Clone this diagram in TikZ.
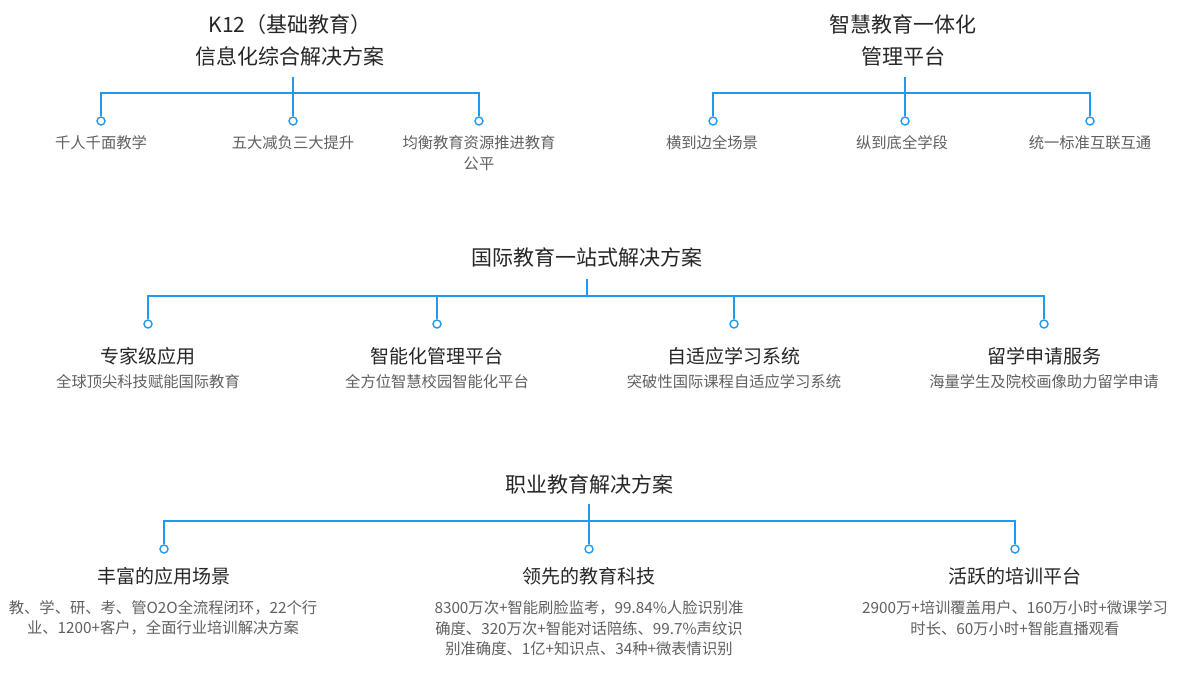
\documentclass[tikz,border=0pt]{standalone}
\usepackage{fontspec}
\setmainfont{Noto Sans CJK SC}
\definecolor{lineblue}{RGB}{30,155,240}
\definecolor{titlec}{RGB}{38,38,38}
\definecolor{descc}{RGB}{96,96,96}
\tikzset{
  titlenode/.style={font=\fontsize{21}{32}\selectfont, text=titlec, align=center, inner sep=0pt},
  subt/.style={font=\fontsize{19}{24}\selectfont, text=titlec, inner sep=0pt},
  desc/.style={font=\fontsize{15.3}{20.5}\selectfont, text=descc, align=center, inner sep=0pt},
  conn/.style={draw=lineblue, line width=1.5pt},
  dot/.style={circle, draw=lineblue, fill=white, line width=1.4pt, minimum size=8pt, inner sep=0pt}
}
\begin{document}
\begin{tikzpicture}[x=1pt,y=-1pt]
\useasboundingbox[fill=white] (0,0) rectangle (1180,682);

% ---------- K12 ----------
\node[titlenode] (k12) at (290,40) {K12（基础教育）\\信息化综合解决方案};
\coordinate (k12s) at (293,77);
\coordinate (k12b) at (293,93);
\node[dot] (a1) at (101,121) {};
\node[dot] (a2) at (293,121) {};
\node[dot] (a3) at (479,121) {};
\draw[conn] (k12s) -- (a2);
\draw[conn] (a1) -- (a1 |- k12b) -- (a3 |- k12b) -- (a3);
\node[desc] (la1) at (101,143) {千人千面教学};
\node[desc] (la2) at (293,143) {五大减负三大提升};
\node[desc] (la3) at (479,153) {均衡教育资源推进教育\\公平};

% ---------- 智慧教育 ----------
\node[titlenode] (zh) at (903,40) {智慧教育一体化\\管理平台};
\coordinate (zhs) at (905,77);
\coordinate (zhb) at (905,93);
\node[dot] (b1) at (713,121) {};
\node[dot] (b2) at (905,121) {};
\node[dot] (b3) at (1090,121) {};
\draw[conn] (zhs) -- (b2);
\draw[conn] (b1) -- (b1 |- zhb) -- (b3 |- zhb) -- (b3);
\node[desc] (lb1) at (712,143) {横到边全场景};
\node[desc] (lb2) at (902,143) {纵到底全学段};
\node[desc] (lb3) at (1090,143) {统一标准互联互通};

% ---------- 国际教育 ----------
\node[titlenode] (gj) at (587,257) {国际教育一站式解决方案};
\coordinate (gjs) at (587,279);
\coordinate (gjb) at (587,296);
\node[dot] (c1) at (148,324) {};
\node[dot] (c2) at (437,324) {};
\node[dot] (c3) at (734,324) {};
\node[dot] (c4) at (1044,324) {};
\draw[conn] (gjs) -- (gjb);
\draw[conn] (c1) -- (c1 |- gjb) -- (c4 |- gjb) -- (c4);
\draw[conn] (c2 |- gjb) -- (c2);
\draw[conn] (c3 |- gjb) -- (c3);
\node[subt] (s1) at (148,356) {专家级应用};
\node[subt] (s2) at (437,356) {智能化管理平台};
\node[subt] (s3) at (734,356) {自适应学习系统};
\node[subt] (s4) at (1044,356) {留学申请服务};
\node[desc] (d1) at (148,382) {全球顶尖科技赋能国际教育};
\node[desc] (d2) at (437,382) {全方位智慧校园智能化平台};
\node[desc] (d3) at (734,382) {突破性国际课程自适应学习系统};
\node[desc] (d4) at (1044,382) {海量学生及院校画像助力留学申请};

% ---------- 职业教育 ----------
\node[titlenode] (zy) at (589,484) {职业教育解决方案};
\coordinate (zys) at (589,504);
\coordinate (zyb) at (589,521);
\node[dot] (e1) at (164,549) {};
\node[dot] (e2) at (589,549) {};
\node[dot] (e3) at (1015,549) {};
\draw[conn] (zys) -- (e2);
\draw[conn] (e1) -- (e1 |- zyb) -- (e3 |- zyb) -- (e3);
\node[subt] (t1) at (164,576) {丰富的应用场景};
\node[subt] (t2) at (589,576) {领先的教育科技};
\node[subt] (t3) at (1015,576) {活跃的培训平台};
\node[desc] (f1) at (163,618) {教、学、研、考、管O2O全流程闭环，22个行\\业、1200+客户，全面行业培训解决方案};
\node[desc] (f2) at (589,628.5) {8300万次+智能刷脸监考，99.84\%人脸识别准\\确度、320万次+智能对话陪练、99.7\%声纹识\\别准确度、1亿+知识点、34种+微表情识别};
\node[desc] (f3) at (1015,618) {2900万+培训覆盖用户、160万小时+微课学习\\时长、60万小时+智能直播观看};
\end{tikzpicture}
\end{document}
